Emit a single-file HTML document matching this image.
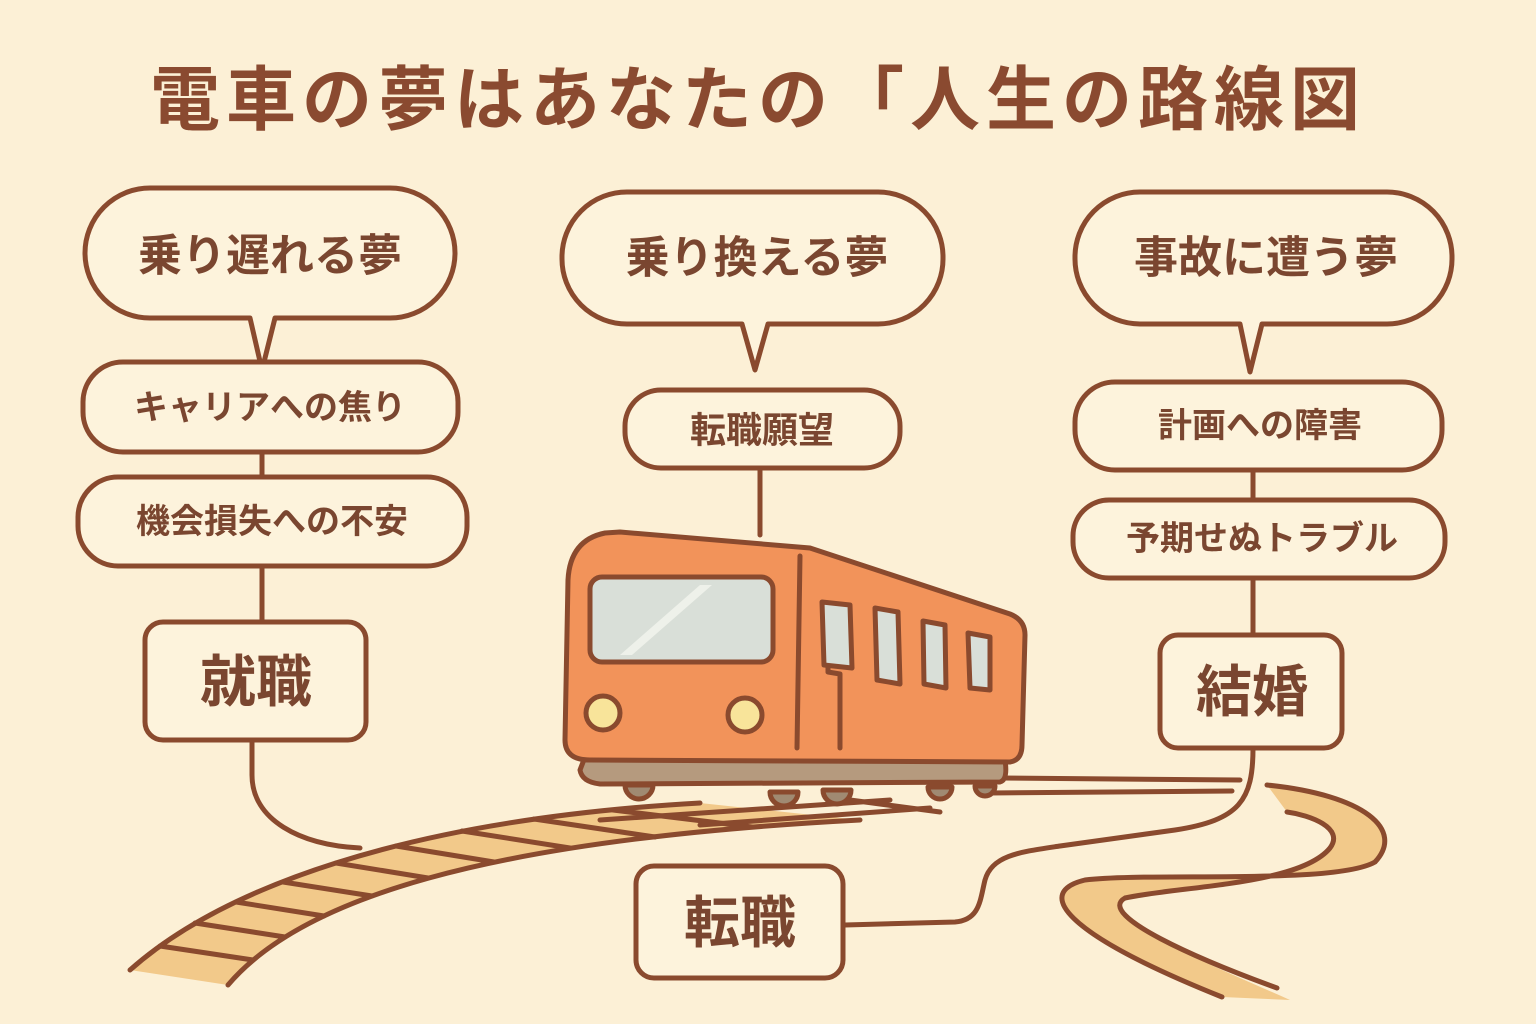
<!DOCTYPE html>
<html><head><meta charset="utf-8"><style>
html,body{margin:0;padding:0;background:#fcf0d6;}
svg{display:block}
text{font-family:"Liberation Sans","Noto Sans CJK JP",sans-serif;font-weight:bold;fill:#7a4630;text-anchor:middle;dominant-baseline:central}
</style></head><body>
<svg width="1536" height="1024" viewBox="0 0 1536 1024" xmlns="http://www.w3.org/2000/svg">
<rect width="1536" height="1024" fill="#fcf0d6"/>
<text x="758" y="100" font-size="70" letter-spacing="6" style="fill:#8a4a30">電車の夢はあなたの「人生の路線図</text>

<g fill="none" stroke="#8a4a2e" stroke-width="5" stroke-linecap="round" stroke-linejoin="round">
<!-- left track band -->
<path d="M130 970 C220 890 400 820 700 803 L860 820 C480 840 300 900 228 985 Z" fill="#f2c98a" stroke="none"/>
<path d="M130 970 C220 890 400 820 700 803"/>
<path d="M228 985 C300 900 480 840 860 820"/>
<path d="M160 946 L253 960 M195 923 L285 937 M236 902 L324 916 M283 882 L372 896 M336 863 L428 878 M396 846 L494 862 M462 831 L570 848 M534 819 L655 837 M613 810 L752 827"/>
<!-- rails under train -->
<path d="M600 820 L890 800 M700 825 L930 808 M850 800 L940 812"/>
<path d="M1000 778 L1240 780 M990 793 L1232 791"/>
<!-- right winding band -->
<path d="M1267 785 C1365 795 1405 830 1375 862 C1335 885 1150 872 1085 880 C1035 892 1060 932 1222 997 L1290 1000 C1200 960 1090 915 1125 898 C1180 886 1300 885 1330 848 C1345 828 1310 815 1287 812 Z" fill="#f2c98a" stroke="none"/>
<path d="M1267 785 C1365 795 1405 830 1375 862 C1335 885 1150 872 1085 880 C1035 892 1060 932 1222 997"/>
<path d="M1287 812 C1310 815 1345 828 1330 848 C1300 885 1180 886 1125 898 C1095 915 1200 960 1277 988"/>

<!-- connectors -->
<path d="M262 452 V478 M262 566 V622 M760 468 V535 M1253 470 V500 M1253 578 V635"/>
<path d="M252 740 V775 C252 820 300 845 360 848"/>
<path d="M845 925 L955 922 C980 920 980 900 985 880 C992 855 1020 852 1060 846 L1175 830 C1240 820 1253 800 1253 748"/>

<!-- bubbles -->
<path d="M150 188 H390 A65 65 0 0 1 455 253 A65 65 0 0 1 390 318 H275 L262 370 L250 318 H150 A65 65 0 0 1 85 253 A65 65 0 0 1 150 188 Z" fill="#fdf3dc"/>
<path d="M628 192 H878 A65 65 0 0 1 943 258 A65 65 0 0 1 878 324 H768 L755 370 L742 324 H628 A65 65 0 0 1 562 258 A65 65 0 0 1 628 192 Z" fill="#fdf3dc"/>
<path d="M1140 192 H1387 A65 65 0 0 1 1452 258 A65 65 0 0 1 1387 324 H1262 L1250 372 L1240 324 H1140 A65 65 0 0 1 1075 258 A65 65 0 0 1 1140 192 Z" fill="#fdf3dc"/>

<!-- boxes -->
<rect x="83" y="362" width="375" height="90" rx="40" fill="#fdf3dc"/>
<rect x="78" y="477" width="389" height="89" rx="40" fill="#fdf3dc"/>
<rect x="145" y="622" width="221" height="118" rx="18" fill="#fdf3dc"/>
<rect x="625" y="390" width="275" height="78" rx="36" fill="#fdf3dc"/>
<rect x="636" y="866" width="207" height="112" rx="18" fill="#fdf3dc"/>
<rect x="1075" y="382" width="367" height="88" rx="40" fill="#fdf3dc"/>
<rect x="1073" y="500" width="372" height="78" rx="36" fill="#fdf3dc"/>
<rect x="1160" y="635" width="182" height="113" rx="18" fill="#fdf3dc"/>

<!-- train -->
<path d="M585 757 L580 770 Q582 782 600 784 L1000 782 Q1008 780 1005 760 Z" fill="#b59a7e"/>
<path d="M625 785 a14 14 0 0 0 28 0 Z M770 792 a14 14 0 0 0 28 0 Z M823 790 a14 14 0 0 0 28 0 Z M928 787 a12 12 0 0 0 24 0 Z M975 786 a10 10 0 0 0 20 0 Z" fill="#a08a72"/>
<path d="M605 533 Q570 540 568 580 L565 740 Q565 760 590 760 L1010 762 Q1022 760 1022 745 L1025 635 Q1025 620 1010 614 L810 548 L620 532 Z" fill="#f2935a"/>
<path d="M800 556 L797 748 M828 603 L828 672 L840 674 L840 748"/>
<rect x="590" y="577" width="183" height="85" rx="12" fill="#d9dfd8"/>
<path d="M822 602 L850 605 L852 668 L824 665 Z" fill="#d9dfd8"/>
<path d="M875 608 L898 612 L900 684 L877 680 Z" fill="#d9dfd8"/>
<path d="M923 621 L945 625 L946 688 L924 684 Z" fill="#d9dfd8"/>
<path d="M968 633 L990 637 L990 690 L970 688 Z" fill="#d9dfd8"/>
<circle cx="603" cy="713" r="17" fill="#f8e49a"/>
<circle cx="745" cy="715" r="17" fill="#f8e49a"/>
</g>
<path d="M620 655 L700 585 L712 585 L632 655 Z" fill="#eef1ea"/>

<text x="270" y="256" font-size="44">乗り遅れる夢</text>
<text x="270" y="408" font-size="34">キャリアへの焦り</text>
<text x="272" y="522" font-size="34">機会損失への不安</text>
<text x="256" y="682" font-size="56">就職</text>
<text x="757" y="258" font-size="44">乗り換える夢</text>
<text x="762" y="430" font-size="36">転職願望</text>
<text x="740" y="923" font-size="56">転職</text>
<text x="1266" y="258" font-size="44">事故に遭う夢</text>
<text x="1260" y="426" font-size="34">計画への障害</text>
<text x="1262" y="539" font-size="34">予期せぬトラブル</text>
<text x="1252" y="692" font-size="56">結婚</text>
</svg>
</body></html>
